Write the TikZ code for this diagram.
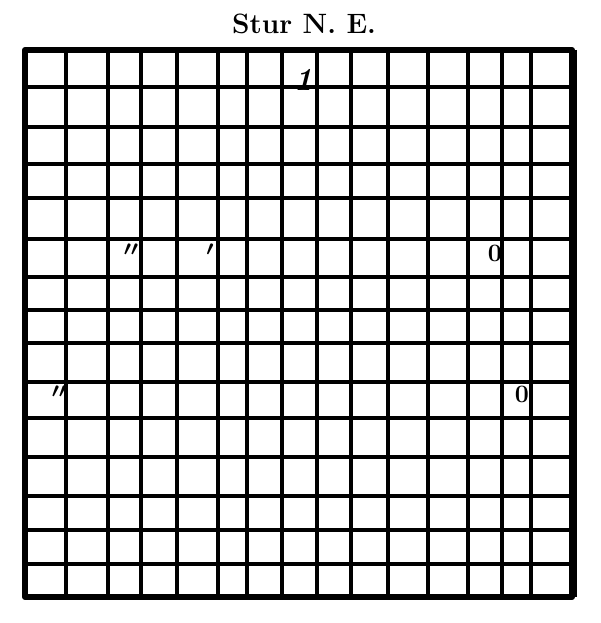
\documentclass[tikz,border=0pt]{standalone}
\usepackage{tikz}
\tikzset{
  gridline/.style={line width=4pt},
  frameline/.style={line width=6pt,line join=round},
  pencil/.style={font=\bfseries\itshape\fontsize{32}{32}\selectfont,inner sep=0pt},
  ditto/.style={font=\boldmath\fontsize{22}{22}\selectfont,inner sep=0pt},
  nought/.style={font=\bfseries\fontsize{25}{25}\selectfont,inner sep=0pt},
}
\begin{document}
\begin{tikzpicture}[x=1pt,y=-1pt]
\useasboundingbox (0,0) rectangle (600,623);
% columns
\foreach \x in {66,108,141,177,218,247,282,317,351,388,428,468,502,531}
  \draw[gridline] (\x,50) -- (\x,597);
% rows
\foreach \y in {87,127,164,198,239,277,310,343,382,418,457,496,530,564}
  \draw[gridline] (25,\y) -- (572,\y);
\draw[frameline] (25,50) rectangle (572,597);
\draw[line width=8pt] (573,50) -- (573,597);
\node[font=\bfseries\fontsize{28}{28}\selectfont] (title) at (304,24) {Stur N. E.};
\node[pencil] (one) at (303,80) {1};
\node[ditto] (dittoa) at (131,250) {$\prime\prime$};
\node[ditto] (ticka) at (210,250) {$\prime$};
\node[ditto] (dittob) at (59,392) {$\prime\prime$};
\node[nought] (zeroa) at (495,253) {0};
\node[nought] (zerob) at (522,394) {0};
\end{tikzpicture}
\end{document}
